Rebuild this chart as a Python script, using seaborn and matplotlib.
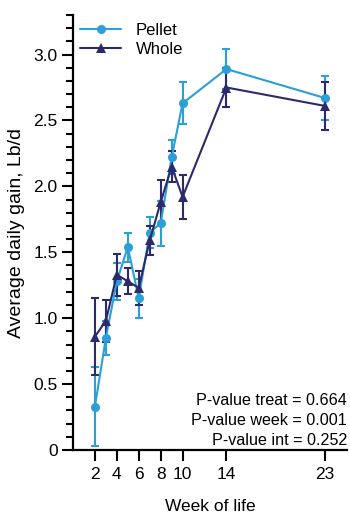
import numpy as np
import pandas as pd
import matplotlib
matplotlib.use("Agg")
import matplotlib.pyplot as plt
from matplotlib.ticker import MultipleLocator
import seaborn as sns

weeks = [2, 3, 4, 5, 6, 7, 8, 9, 10, 14, 23]
pellet_mean = [0.33, 0.85, 1.28, 1.54, 1.15, 1.65, 1.72, 2.22, 2.63, 2.89, 2.67]
pellet_err = [0.30, 0.13, 0.14, 0.11, 0.15, 0.12, 0.17, 0.13, 0.16, 0.15, 0.17]
whole_mean = [0.86, 0.98, 1.33, 1.28, 1.23, 1.59, 1.88, 2.15, 1.92, 2.75, 2.61]
whole_err = [0.29, 0.16, 0.16, 0.10, 0.13, 0.11, 0.17, 0.12, 0.17, 0.15, 0.18]
xticks = [2, 4, 6, 8, 10, 14, 23]
pvals = ["P-value treat = 0.664", "P-value week = 0.001", "P-value int = 0.252"]

c_pellet = "#2a9fd8"
c_whole = "#2c2a6a"

df = pd.DataFrame({
    "week": weeks * 2,
    "gain": pellet_mean + whole_mean,
    "err": pellet_err + whole_err,
    "diet": ["Pellet"] * len(weeks) + ["Whole"] * len(weeks),
})

sns.set_style("ticks")
plt.rcParams["font.family"] = ["Liberation Sans", "DejaVu Sans"]
for k in ["text.color", "axes.labelcolor", "xtick.color", "ytick.color", "axes.edgecolor"]:
    plt.rcParams[k] = "black"

fig = plt.figure(figsize=(3.5, 5.14), dpi=100)
ax = fig.add_axes([73/350, 1 - 450/514, 274/350, 435/514])

palette = {"Pellet": c_pellet, "Whole": c_whole}
for diet in ["Pellet", "Whole"]:
    sub = df[df.diet == diet]
    ax.errorbar(sub.week, sub.gain, yerr=sub.err, fmt="none", ecolor=palette[diet],
                elinewidth=1.5, capsize=3.2, capthick=1.5, zorder=2)

sns.lineplot(data=df, x="week", y="gain", hue="diet", style="diet",
             markers={"Pellet": "o", "Whole": "^"}, dashes=False,
             palette=palette, linewidth=1.5, markersize=6.5, markeredgewidth=0,
             ax=ax, zorder=3)

ax.set_xlim(0, 25)
ax.set_ylim(0, 3.3)
ax.set_xticks(xticks)
ax.yaxis.set_minor_locator(MultipleLocator(0.1))
yt = np.arange(0, 3.01, 0.5)
ax.set_yticks(yt)
ax.set_yticklabels([f"{v:.1f}" if v > 0 else "0" for v in yt])
ax.tick_params(axis="both", which="major", length=8, width=1.5, labelsize=12.5, pad=3)
ax.tick_params(axis="x", which="major", pad=4.5)
ax.tick_params(axis="y", which="minor", length=5, width=1.5)
for s in ["left", "bottom"]:
    ax.spines[s].set_linewidth(1.6)
for s in ["top", "right"]:
    ax.spines[s].set_visible(False)

ax.set_xlabel("Week of life", fontsize=12.5, labelpad=12)
ax.set_ylabel("Average daily gain, Lb/d", fontsize=14)
ax.yaxis.set_label_coords(-0.175, 0.5)

ax.legend(loc="upper left", bbox_to_anchor=(0.0, 0.997), borderaxespad=0,
          frameon=False, fontsize=12, handlelength=2.5, handletextpad=0.85,
          labelspacing=0.25, title=None)

for i, t in enumerate(pvals):
    ax.text(1.0, 0.096 - i * 0.046, t, transform=ax.transAxes, ha="right",
            va="bottom", fontsize=11.6)

fig.savefig("out.png", dpi=100)
